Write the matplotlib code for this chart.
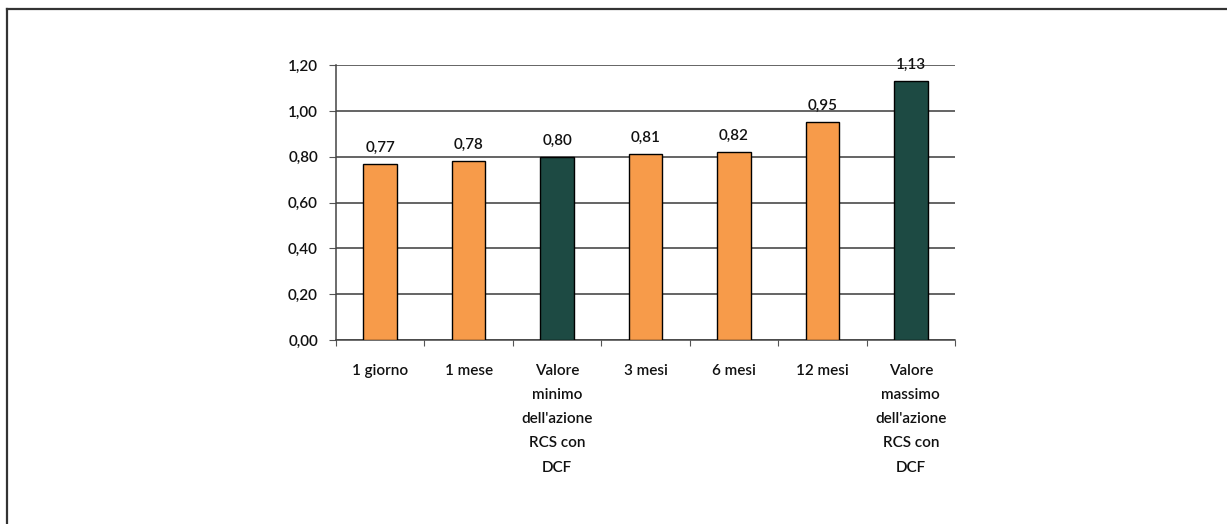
import matplotlib.pyplot as plt
import matplotlib.lines as mlines
import numpy as np

# Categories and values
categories = [
    "1 giorno",
    "1 mese",
    "Valore\nminimo\ndell'azione\nRCS con\nDCF",
    "3 mesi",
    "6 mesi",
    "12 mesi",
    "Valore\nmassimo\ndell'azione\nRCS con\nDCF",
]
values = [0.77, 0.78, 0.80, 0.81, 0.82, 0.95, 1.13]
is_dcf = [False, False, True, False, False, False, True]
yticks = [0.0, 0.2, 0.4, 0.6, 0.8, 1.0, 1.2]

orange = '#F79B4A'
teal = '#1D4A43'

plt.rcParams['font.family'] = ['Lato', 'DejaVu Sans']
plt.rcParams['font.weight'] = 'semibold'

fig = plt.figure(figsize=(12.27, 5.24), dpi=100)
ax = fig.add_axes([0.2738, 0.3511, 0.5045, 0.5248])

x = np.arange(len(categories))
colors = [teal if d else orange for d in is_dcf]
bars = ax.bar(x, values, width=0.38, color=colors, edgecolor='black',
              linewidth=1.0, zorder=3)

# value labels above bars
for xi, v in zip(x, values):
    ax.text(xi, v + 0.04, f"{v:.2f}".replace('.', ','), ha='center',
            va='bottom', fontsize=11, color='#111111', zorder=4)

ax.set_xlim(-0.5, len(categories) - 0.5)
ax.set_ylim(0, 1.2)
ax.set_yticks(yticks)
ax.set_yticklabels([f"{t:.2f}".replace('.', ',') for t in yticks], fontsize=11,
                   color='#111111')

# category ticks at boundaries, labels at centres
ax.set_xticks(np.arange(-0.5, len(categories), 1.0))
ax.set_xticklabels([])
ax.set_xticks(x, minor=True)
ax.set_xticklabels(categories, minor=True, fontsize=11, linespacing=1.93,
                   va='top', ha='center', color='#111111')
ax.tick_params(axis='x', which='minor', length=0, pad=17)
ax.tick_params(axis='x', which='major', length=4, color='#555555', direction='out')
ax.tick_params(axis='y', length=5, color='#555555', pad=8)

ax.yaxis.grid(True, color='#3a3a3a', linewidth=1.1, zorder=0)
ax.set_axisbelow(True)
for s in ['top', 'right']:
    ax.spines[s].set_visible(False)
for s in ['left', 'bottom']:
    ax.spines[s].set_color('#444444')
    ax.spines[s].set_linewidth(1.1)

# scanned frame: top and left edges
fig.add_artist(mlines.Line2D([7 / 1227, 1.0], [1 - 9 / 524, 1 - 9 / 524],
                             color='#333333', linewidth=1.6))
fig.add_artist(mlines.Line2D([7 / 1227, 7 / 1227], [0.0, 1 - 9 / 524],
                             color='#333333', linewidth=1.6))

fig.savefig('out.png', dpi=100, facecolor='white')
